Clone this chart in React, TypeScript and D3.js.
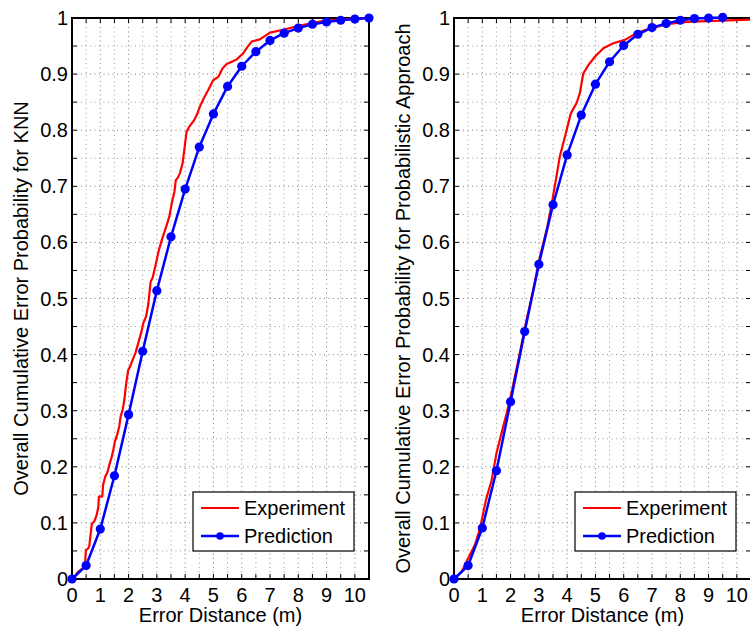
import React from 'react';
import * as d3 from 'd3';

// ---------- data ----------
const xTickValues = [0, 1, 2, 3, 4, 5, 6, 7, 8, 9, 10];
const xTickLabels = ['0', '1', '2', '3', '4', '5', '6', '7', '8', '9', '10'];
const yTickValues = [0, 0.1, 0.2, 0.3, 0.4, 0.5, 0.6, 0.7, 0.8, 0.9, 1];
const yTickLabels = ['0', '0.1', '0.2', '0.3', '0.4', '0.5', '0.6', '0.7', '0.8', '0.9', '1'];

const seriesNames = ['Experiment', 'Prediction'];

// KNN panel
const knnPredX = [0, 0.5, 1, 1.5, 2, 2.5, 3, 3.5, 4, 4.5, 5, 5.5, 6, 6.5, 7, 7.5, 8, 8.5, 9, 9.5, 10, 10.5];
const knnPredY = [0, 0.024, 0.089, 0.184, 0.293, 0.406, 0.514, 0.61, 0.695, 0.77, 0.829, 0.878, 0.914, 0.94, 0.96, 0.973, 0.982, 0.989, 0.993, 0.996, 0.998, 1.0];
const knnExpX = [0, 0.1, 0.22, 0.3, 0.46, 0.49, 0.55, 0.61, 0.66, 0.7, 0.8, 0.87, 0.93, 0.95, 1.07, 1.1, 1.17, 1.25, 1.34, 1.4, 1.46, 1.52, 1.58, 1.67, 1.72, 1.79, 1.85, 1.92, 1.99, 2.05, 2.14, 2.25, 2.34, 2.45, 2.52, 2.62, 2.7, 2.78, 2.85, 2.93, 3.0, 3.07, 3.15, 3.23, 3.33, 3.44, 3.54, 3.62, 3.67, 3.75, 3.82, 3.91, 3.97, 4.05, 4.13, 4.23, 4.32, 4.41, 4.52, 4.66, 4.82, 4.99, 5.17, 5.32, 5.47, 5.65, 5.82, 6.05, 6.2, 6.35, 6.64, 7.0, 7.47, 7.94, 8.41, 8.88, 9.47, 10.0, 10.5];
const knnExpY = [0, 0.005, 0.013, 0.016, 0.023, 0.052, 0.053, 0.058, 0.08, 0.098, 0.104, 0.114, 0.128, 0.147, 0.147, 0.168, 0.182, 0.19, 0.207, 0.217, 0.23, 0.246, 0.254, 0.272, 0.29, 0.301, 0.319, 0.35, 0.373, 0.378, 0.39, 0.404, 0.42, 0.44, 0.456, 0.468, 0.491, 0.53, 0.537, 0.554, 0.57, 0.586, 0.6, 0.613, 0.628, 0.646, 0.673, 0.69, 0.711, 0.716, 0.724, 0.741, 0.765, 0.797, 0.805, 0.812, 0.818, 0.827, 0.842, 0.857, 0.872, 0.889, 0.895, 0.91, 0.918, 0.922, 0.926, 0.937, 0.948, 0.958, 0.962, 0.974, 0.979, 0.985, 0.99, 0.995, 0.997, 0.999, 1.0];

// Probabilistic panel
const probPredX = [0, 0.5, 1, 1.5, 2, 2.5, 3, 3.5, 4, 4.5, 5, 5.5, 6, 6.5, 7, 7.5, 8, 8.5, 9, 9.5];
const probPredY = [0, 0.024, 0.091, 0.193, 0.316, 0.441, 0.561, 0.667, 0.756, 0.827, 0.882, 0.922, 0.951, 0.971, 0.983, 0.99, 0.996, 0.999, 1.0, 1.001];
const probExpX = [0, 0.27, 0.47, 0.74, 0.92, 1.13, 1.33, 1.5, 1.68, 1.86, 2.05, 2.3, 2.54, 2.8, 3.04, 3.3, 3.48, 3.6, 3.74, 3.92, 4.13, 4.33, 4.45, 4.57, 4.75, 4.98, 5.28, 5.63, 6.04, 6.45, 6.93, 7.52, 8.23, 9.17, 10.5];
const probExpY = [0, 0.013, 0.034, 0.061, 0.09, 0.141, 0.176, 0.224, 0.26, 0.295, 0.336, 0.396, 0.456, 0.515, 0.575, 0.628, 0.676, 0.711, 0.753, 0.788, 0.83, 0.848, 0.866, 0.901, 0.916, 0.931, 0.946, 0.955, 0.961, 0.973, 0.981, 0.989, 0.993, 0.995, 0.997];

// ---------- layout ----------
const FONT = 'Liberation Sans, Arial, Helvetica, sans-serif';
const TOP = 18;
const BOTTOM = 579;
const WIDTH = 297;

type PanelProps = {
  left: number;
  yLabel: string;
  expX: number[];
  expY: number[];
  predX: number[];
  predY: number[];
  id: string;
};

function Panel({ left, yLabel, expX, expY, predX, predY, id }: PanelProps) {
  const x = d3.scaleLinear().domain([0, 10.5]).range([left, left + WIDTH]);
  const y = d3.scaleLinear().domain([0, 1]).range([BOTTOM, TOP]);
  const gridX = d3.range(0.5, 10.5, 0.5);
  const gridY = d3.range(1, 20).map((i) => i * 0.05);
  const tickX = d3.range(0, 21).map((i) => i * 0.5);
  const tickY = d3.range(0, 21).map((i) => i * 0.05);
  const line = d3.line<number>().x((d, i) => 0).y(() => 0);
  const expPath = d3
    .line<[number, number]>()
    .x((d) => x(d[0]))
    .y((d) => y(d[1]))(expX.map((v, i) => [v, expY[i]]));
  const predPath = d3
    .line<[number, number]>()
    .x((d) => x(d[0]))
    .y((d) => y(d[1]))(predX.map((v, i) => [v, predY[i]]));
  void line;
  const tl = 5;
  const legL = left + 121;
  const legT = 492;

  return (
    <g>
      {/* grid */}
      {gridX.map((g, i) => (
        <line
          key={'gx' + i}
          x1={x(g)}
          x2={x(g)}
          y1={TOP}
          y2={BOTTOM}
          stroke="#555"
          strokeWidth={1}
          strokeDasharray="1 3.5"
          opacity={Math.abs(g - Math.round(g)) < 1e-6 ? 0.75 : 0.55}
        />
      ))}
      {gridY.map((g, i) => (
        <line
          key={'gy' + i}
          x1={left}
          x2={left + WIDTH}
          y1={y(g)}
          y2={y(g)}
          stroke="#555"
          strokeWidth={1}
          strokeDasharray="1 3.5"
          opacity={i % 2 === 1 ? 0.75 : 0.55}
        />
      ))}
      {/* frame */}
      <rect x={left} y={TOP} width={WIDTH} height={BOTTOM - TOP} fill="none" stroke="#000" strokeWidth={2} />
      {/* ticks */}
      {tickX.map((t, i) => (
        <g key={'tx' + i}>
          <line x1={x(t)} x2={x(t)} y1={BOTTOM} y2={BOTTOM - tl} stroke="#000" strokeWidth={1} />
          <line x1={x(t)} x2={x(t)} y1={TOP} y2={TOP + tl} stroke="#000" strokeWidth={1} />
        </g>
      ))}
      {tickY.map((t, i) => (
        <g key={'ty' + i}>
          <line x1={left} x2={left + tl} y1={y(t)} y2={y(t)} stroke="#000" strokeWidth={1} />
          <line x1={left + WIDTH} x2={left + WIDTH - tl} y1={y(t)} y2={y(t)} stroke="#000" strokeWidth={1} />
        </g>
      ))}
      {/* tick labels */}
      {xTickValues.map((t, i) => (
        <text key={'xl' + i} x={x(t)} y={602} textAnchor="middle" fontSize={20} fontFamily={FONT} fill="#000">
          {xTickLabels[i]}
        </text>
      ))}
      {yTickValues.map((t, i) => (
        <text key={'yl' + i} x={left - 4} y={y(t) + 7} textAnchor="end" fontSize={20} fontFamily={FONT} fill="#000">
          {yTickLabels[i]}
        </text>
      ))}
      {/* axis titles */}
      <text x={left + WIDTH / 2} y={622} textAnchor="middle" fontSize={20} fontFamily={FONT} fill="#000">
        Error Distance (m)
      </text>
      <text
        transform={`translate(${left - 44},${(TOP + BOTTOM) / 2}) rotate(-90)`}
        textAnchor="middle"
        fontSize={20}
        fontFamily={FONT}
        fill="#000"
      >
        {yLabel}
      </text>
      {/* data */}
      <path d={expPath || ''} fill="none" stroke="#ff0000" strokeWidth={2.2} strokeLinejoin="round" />
      <path d={predPath || ''} fill="none" stroke="#0000ff" strokeWidth={2.5} strokeLinejoin="round" />
      {predX.map((v, i) => (
        <circle key={'pm' + i} cx={x(v)} cy={y(predY[i])} r={4.6} fill="#0000ff" />
      ))}
      {/* legend */}
      <rect x={legL} y={legT} width={161} height={59} fill="#fff" stroke="#000" strokeWidth={1.2} />
      <line x1={legL + 8} x2={legL + 46} y1={legT + 16} y2={legT + 16} stroke="#ff0000" strokeWidth={2.2} />
      <text x={legL + 51} y={legT + 23} fontSize={20} fontFamily={FONT} fill="#000">
        {seriesNames[0]}
      </text>
      <line x1={legL + 8} x2={legL + 46} y1={legT + 44} y2={legT + 44} stroke="#0000ff" strokeWidth={2.5} />
      <circle cx={legL + 27} cy={legT + 44} r={3.8} fill="#0000ff" />
      <text x={legL + 51} y={legT + 51} fontSize={20} fontFamily={FONT} fill="#000">
        {seriesNames[1]}
      </text>
      <desc>{id}</desc>
    </g>
  );
}

export default function App() {
  return (
    <svg
      width={750}
      height={627}
      viewBox="0 0 750 627"
      style={{ position: 'absolute', left: 0, top: 0, background: '#fff' }}
    >
      <rect x={0} y={0} width={750} height={627} fill="#fff" />
      <Panel
        id="knn"
        left={72}
        yLabel="Overall Cumulative Error Probability for KNN"
        expX={knnExpX}
        expY={knnExpY}
        predX={knnPredX}
        predY={knnPredY}
      />
      <Panel
        id="prob"
        left={454}
        yLabel="Overall Cumulative Error Probability for Probabilistic Approach"
        expX={probExpX}
        expY={probExpY}
        predX={probPredX}
        predY={probPredY}
      />
    </svg>
  );
}
